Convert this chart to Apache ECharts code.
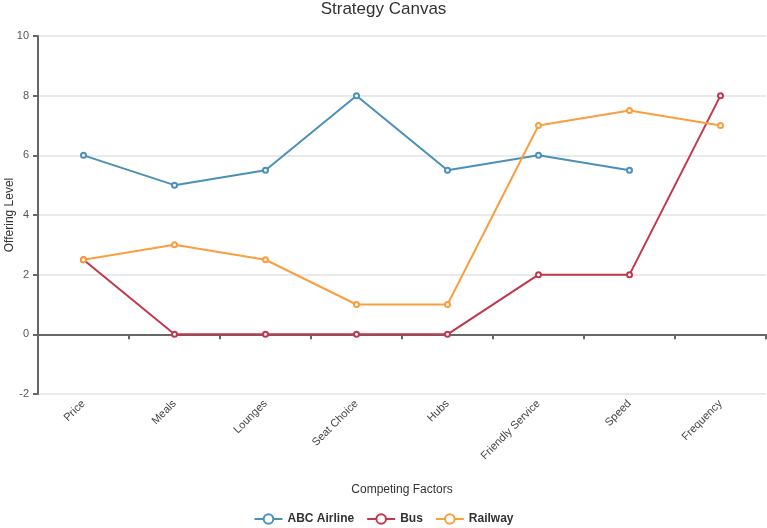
<!DOCTYPE html>
<html>
<head>
<meta charset="utf-8">
<script src="https://cdn.jsdelivr.net/npm/echarts@6/dist/echarts.min.js"></script>
<style>html,body{margin:0;padding:0;background:#fff}#c{width:767px;height:528px}</style>
</head>
<body>
<div id="c"></div>
<script>
const categories = ['Price','Meals','Lounges','Seat Choice','Hubs','Friendly Service','Speed','Frequency'];
const abcAirline = [6, 5, 5.5, 8, 5.5, 6, 5.5, null];
const bus = [2.5, 0, 0, 0, 0, 2, 2, 8];
const railway = [2.5, 3, 2.5, 1, 1, 7, 7.5, 7];
const yTicks = { min: -2, max: 10, interval: 2 };

const chart = echarts.init(document.getElementById('c'));
const font = 'Arial, "Liberation Sans", sans-serif';
function mk(name, data, color) {
  return {
    name: name, type: 'line', data: data, xAxisIndex: 0,
    symbol: 'emptyCircle', symbolSize: 5,
    lineStyle: { width: 2, color: color },
    itemStyle: { color: color, borderWidth: 1.2 },
    connectNulls: false
  };
}
chart.setOption({
  animation: false,
  textStyle: { fontFamily: font },
  color: ['#4a90b8', '#c0384f', '#f99f3e'],
  title: {
    text: 'Strategy Canvas', left: 'center', top: -4,
    textStyle: { fontSize: 17, fontWeight: 'normal', color: '#333', fontFamily: font }
  },
  legend: {
    bottom: -2, left: 'center', itemGap: 12, itemWidth: 28, itemHeight: 12,
    textStyle: { fontWeight: 'bold', fontSize: 12, color: '#333', fontFamily: font },
    data: ['ABC Airline', 'Bus', 'Railway']
  },
  grid: { left: 38, right: 1, top: 36, bottom: 134, containLabel: false, outerBoundsMode: 'none' },
  xAxis: [
    {
      type: 'category', data: categories, boundaryGap: true,
      axisLine: { onZero: true, lineStyle: { color: '#666', width: 2 } },
      axisTick: { show: true, interval: 0, length: 5, lineStyle: { color: '#666', width: 2 } },
      axisLabel: { show: false, interval: 0 },
      splitLine: { show: false }
    },
    {
      type: 'category', data: categories, boundaryGap: true, position: 'bottom',
      axisLine: { show: false, onZero: false },
      axisTick: { show: false },
      axisLabel: { show: true, rotate: 45, margin: 8, fontSize: 11, color: '#444', fontFamily: font, interval: 0 },
      name: 'Competing Factors', nameLocation: 'middle', nameGap: 90, nameMoveOverlap: false,
      nameTextStyle: { fontSize: 12, color: '#333', fontFamily: font }
    }
  ],
  yAxis: {
    type: 'value', min: yTicks.min, max: yTicks.max, interval: yTicks.interval,
    axisLine: { show: true, lineStyle: { color: '#666', width: 2 } },
    axisTick: { show: true, length: 5, lineStyle: { color: '#666', width: 2 } },
    axisLabel: { fontSize: 11, color: '#555', margin: 9, fontFamily: font },
    splitLine: { show: true, lineStyle: { color: '#eaeaea', width: 2 } },
    name: 'Offering Level', nameLocation: 'middle', nameGap: 22, nameRotate: 90, nameMoveOverlap: false,
    nameTextStyle: { fontSize: 12, color: '#333', fontFamily: font }
  },
  series: [
    mk('ABC Airline', abcAirline, '#4a90b8'),
    mk('Bus', bus, '#c0384f'),
    mk('Railway', railway, '#f99f3e')
  ]
});
</script>
</body>
</html>
